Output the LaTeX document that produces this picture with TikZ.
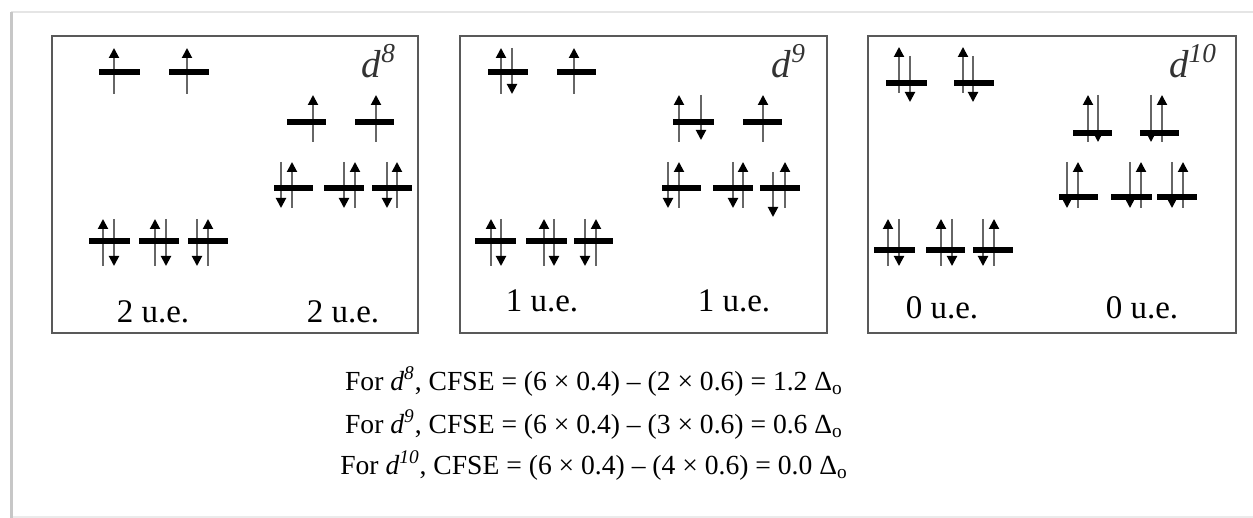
\documentclass[tikz,border=0pt]{standalone}
\usepackage{fontspec}
\setmainfont{Liberation Serif}
\usetikzlibrary{arrows.meta, positioning}

\tikzset{
  orbital/.style={line width=2.8pt, black},
  spin/.style={line width=1pt, black!60, -{Triangle[black, length=5pt, width=5pt]}},
  panel/.style={draw=black!65, line width=1.2pt},
  uelabel/.style={font=\fontsize{16.5}{19}\selectfont, anchor=base},
  dlabel/.style={font=\fontsize{19.5}{22}\selectfont\itshape, anchor=base east, text=black!80},
  cfse/.style={font=\fontsize{13.8}{17}\selectfont, anchor=base}
}

\begin{document}
\begin{tikzpicture}[x=0.5pt, y=-0.5pt]
\useasboundingbox (0,0) rectangle (1253,518);
% page frame
\draw[black!8, line width=1pt] (11,517) -- (1253,517);
\draw[black!10, line width=1pt] (11,12) -- (1253,12);
\draw[black!22, line width=1.5pt] (11,518) -- (11,12);

% panels
\draw[panel] (52,36) rectangle (418,333);
\draw[panel] (460,36) rectangle (827,333);
\draw[panel] (868,36) rectangle (1236,333);

%%% d8
\draw[spin] (114,94) -- (114,48);
\draw[spin] (187,94) -- (187,48);
\draw[spin] (103,266) -- (103,219); \draw[spin] (114,219) -- (114,266);
\draw[spin] (155,266) -- (155,219); \draw[spin] (166,219) -- (166,266);
\draw[spin] (197,219) -- (197,266); \draw[spin] (208,266) -- (208,219);
\draw[spin] (313,142) -- (313,95);
\draw[spin] (376,142) -- (376,95);
\draw[spin] (281,162) -- (281,208); \draw[spin] (292,208) -- (292,162);
\draw[spin] (344,162) -- (344,208); \draw[spin] (355,208) -- (355,162);
\draw[spin] (387,162) -- (387,208); \draw[spin] (397,208) -- (397,162);

\draw[orbital] (99,72) -- (140,72);  \draw[orbital] (169,72) -- (209,72);
\draw[orbital] (89,241) -- (130,241); \draw[orbital] (139,241) -- (179,241); \draw[orbital] (188,241) -- (228,241);
\draw[orbital] (287,122) -- (326,122); \draw[orbital] (355,122) -- (394,122);
\draw[orbital] (274,188) -- (313,188); \draw[orbital] (324,188) -- (364,188); \draw[orbital] (372,188) -- (412,188);

\node[dlabel] (d8) at (403,78) {d\textsuperscript{8}};
\node[uelabel] (ue8a) at (153,322) {2 u.e.};
\node[uelabel] (ue8b) at (343,322) {2 u.e.};

%%% d9
\draw[spin] (501,94) -- (501,48); \draw[spin] (512,48) -- (512,94);
\draw[spin] (574,94) -- (574,48);
\draw[spin] (491,266) -- (491,219); \draw[spin] (501,219) -- (501,266);
\draw[spin] (544,266) -- (544,219); \draw[spin] (554,219) -- (554,266);
\draw[spin] (585,219) -- (585,266); \draw[spin] (596,266) -- (596,219);
\draw[spin] (679,142) -- (679,95); \draw[spin] (701,95) -- (701,140);
\draw[spin] (763,142) -- (763,95);
\draw[spin] (668,162) -- (668,208); \draw[spin] (679,208) -- (679,162);
\draw[spin] (733,162) -- (733,208); \draw[spin] (743,208) -- (743,162);
\draw[spin] (773,172) -- (773,217); \draw[spin] (785,208) -- (785,162);

\draw[orbital] (488,72) -- (528,72);  \draw[orbital] (557,72) -- (596,72);
\draw[orbital] (475,241) -- (516,241); \draw[orbital] (526,241) -- (567,241); \draw[orbital] (574,241) -- (613,241);
\draw[orbital] (673,122) -- (714,122); \draw[orbital] (743,122) -- (782,122);
\draw[orbital] (662,188) -- (701,188); \draw[orbital] (713,188) -- (753,188); \draw[orbital] (760,188) -- (800,188);

\node[dlabel] (d9) at (813,78) {d\textsuperscript{9}};
\node[uelabel] (ue9a) at (542,312) {1 u.e.};
\node[uelabel] (ue9b) at (734,312) {1 u.e.};

%%% d10
\draw[spin] (899,93) -- (899,47); \draw[spin] (910,56) -- (910,102);
\draw[spin] (963,93) -- (963,47); \draw[spin] (973,56) -- (973,102);
\draw[spin] (888,266) -- (888,219); \draw[spin] (899,219) -- (899,266);
\draw[spin] (941,266) -- (941,219); \draw[spin] (952,219) -- (952,266);
\draw[spin] (983,219) -- (983,266); \draw[spin] (994,266) -- (994,219);
\draw[spin] (1088,142) -- (1088,95); \draw[spin] (1098,95) -- (1098,142);
\draw[spin] (1151,95) -- (1151,142); \draw[spin] (1162,142) -- (1162,95);
\draw[spin] (1067,162) -- (1067,208); \draw[spin] (1078,208) -- (1078,162);
\draw[spin] (1130,162) -- (1130,208); \draw[spin] (1141,208) -- (1141,162);
\draw[spin] (1172,162) -- (1172,208); \draw[spin] (1183,208) -- (1183,162);

\draw[orbital] (886,83) -- (927,83);  \draw[orbital] (954,83) -- (994,83);
\draw[orbital] (874,250) -- (915,250); \draw[orbital] (926,250) -- (965,250); \draw[orbital] (973,250) -- (1013,250);
\draw[orbital] (1073,133) -- (1112,133); \draw[orbital] (1140,133) -- (1179,133);
\draw[orbital] (1059,197) -- (1098,197); \draw[orbital] (1111,197) -- (1152,197); \draw[orbital] (1157,197) -- (1197,197);

\node[dlabel] (d10) at (1224,78) {d\textsuperscript{10}};
\node[uelabel] (ue10a) at (942,319) {0 u.e.};
\node[uelabel] (ue10b) at (1142,319) {0 u.e.};

% CFSE lines
\node[cfse] (eq8) at (594,390) {For \textit{d\textsuperscript{8}}, CFSE = (6 × 0.4) – (2 × 0.6) = 1.2 Δ\textsubscript{o}};
\node[cfse] (eq9) at (594,433) {For \textit{d\textsuperscript{9}}, CFSE = (6 × 0.4) – (3 × 0.6) = 0.6 Δ\textsubscript{o}};
\node[cfse] (eq10) at (594,474) {For \textit{d\textsuperscript{10}}, CFSE = (6 × 0.4) – (4 × 0.6) = 0.0 Δ\textsubscript{o}};
\end{tikzpicture}
\end{document}
